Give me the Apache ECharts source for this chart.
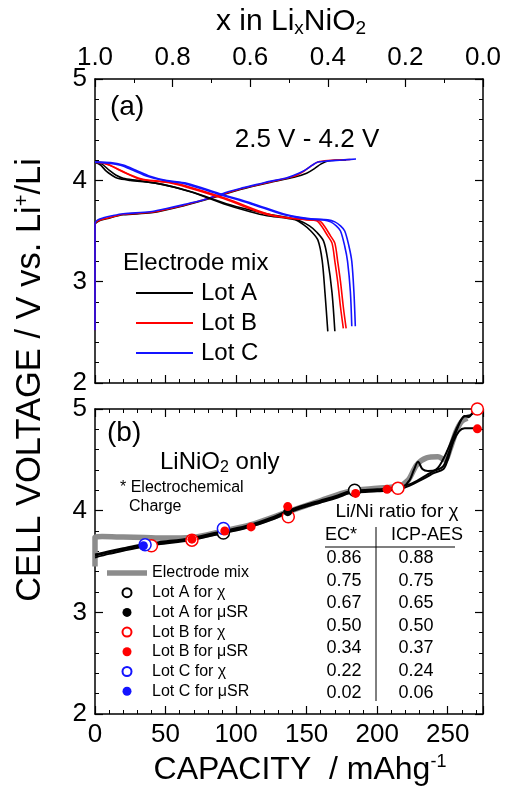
<!DOCTYPE html>
<html>
<head>
<meta charset="utf-8">
<script src="https://cdn.jsdelivr.net/npm/echarts@6/dist/echarts.min.js"></script>
<style>
  html, body { margin: 0; padding: 0; background: #fff; }
  #chart { width: 508px; height: 796px; }
</style>
</head>
<body>
<div id="chart"></div>
<script>
// ---- panel (a): 2.5 V - 4.2 V cycling, electrode mix, [capacity, voltage]
const chargeA = [[0,2.52],[0,3.56],[3,3.6],[8,3.62],[20,3.66],[40,3.68],[63,3.75],[84,3.83],[103,3.91],[124,3.98],[141,4.03],[150,4.07],[156,4.12],[160,4.16],[165,4.19],[178,4.2]];
const chargeB = [[0,2.52],[0,3.57],[4,3.61],[10,3.63],[20,3.665],[40,3.685],[63,3.755],[84,3.835],[103,3.915],[124,3.985],[141,4.04],[148,4.09],[153,4.14],[158,4.18],[165,4.195],[181,4.205]];
const chargeC = [[0,2.52],[0,3.58],[2,3.61],[6,3.63],[12,3.65],[20,3.67],[39,3.69],[50,3.72],[63,3.76],[75,3.8],[84,3.84],[95,3.89],[103,3.92],[115,3.96],[124,3.99],[135,4.02],[141,4.05],[146,4.08],[150,4.11],[154,4.15],[158,4.18],[164,4.19],[175,4.2],[185,4.21]];
const dischA1 = [[0,4.18],[4,4.15],[8,4.09],[12,4.05],[16,4.02],[25,4.0],[44,3.97],[67,3.89],[91,3.77],[110,3.69],[122,3.65],[134,3.63],[142,3.61],[148,3.56],[153,3.5],[158,3.41],[161,3.21],[163,2.89],[165,2.51]];
const dischA2 = [[0,4.18],[5,4.16],[10,4.1],[15,4.05],[20,4.02],[30,4.0],[48,3.96],[70,3.88],[93,3.77],[112,3.7],[125,3.66],[137,3.63],[145,3.6],[152,3.55],[157,3.49],[162,3.4],[165,3.21],[168,2.89],[170,2.51]];
const dischB1 = [[0,4.18],[6,4.17],[10,4.15],[16,4.11],[22,4.07],[32,4.01],[55,3.97],[91,3.82],[120,3.67],[135,3.63],[150,3.61],[157,3.6],[161,3.54],[165,3.45],[168,3.38],[170,3.2],[172,3.0],[174,2.75],[176,2.54]];
const dischB2 = [[0,4.18],[7,4.17],[12,4.14],[18,4.1],[24,4.06],[34,4.01],[57,3.97],[93,3.82],[122,3.67],[137,3.63],[152,3.61],[159,3.6],[163,3.54],[167,3.45],[170,3.38],[172,3.2],[174,3.0],[176,2.75],[178,2.54]];
const dischC1 = [[0,4.18],[10,4.17],[18,4.15],[27,4.1],[37,4.04],[48,4.0],[63,3.97],[86,3.87],[110,3.77],[134,3.66],[150,3.62],[162,3.61],[167,3.59],[171,3.55],[174,3.5],[177,3.35],[179,3.2],[181,2.9],[182,2.56]];
const dischC2 = [[0,4.18],[11,4.175],[20,4.15],[29,4.1],[39,4.04],[50,4.0],[65,3.97],[88,3.87],[112,3.77],[136,3.66],[153,3.62],[165,3.61],[170,3.59],[174,3.55],[177,3.5],[180,3.35],[182,3.2],[183.5,2.9],[184.5,2.56]];

// ---- panel (b): LiNiO2 only, first charge
const mixCharge = [[0,3.45],[0,3.74],[5,3.745],[20,3.74],[35,3.735],[50,3.73],[68,3.735],[91,3.8],[110,3.86],[137,3.99],[160,4.1],[180,4.19],[200,4.22],[215,4.24],[222,4.3],[228,4.45],[235,4.52],[243,4.53],[248,4.5],[252,4.62],[256,4.78],[260,4.88],[264,4.91]];
const onlyA = [[0,3.56],[10,3.59],[20,3.62],[32,3.655],[45,3.68],[68,3.72],[91,3.79],[110,3.85],[125,3.92],[137,3.99],[150,4.05],[160,4.09],[172,4.14],[180,4.18],[186,4.19],[200,4.2],[210,4.21],[218,4.23],[223,4.3],[226,4.4],[229,4.48],[232,4.41],[236,4.39],[242,4.4],[247,4.44],[251,4.58],[255,4.74],[259,4.88],[262,4.93],[265,4.92],[268,4.97],[271,5.0]];
const onlyB = [[0,3.54],[10,3.575],[20,3.605],[32,3.64],[45,3.67],[68,3.71],[91,3.78],[110,3.84],[125,3.91],[137,3.98],[150,4.04],[160,4.08],[172,4.13],[180,4.17],[186,4.18],[200,4.19],[210,4.2],[218,4.22],[225,4.26],[235,4.33],[240,4.37],[247,4.41],[250,4.5],[254,4.68],[258,4.78],[262,4.81],[271,4.81]];
const onlyC = [[0,3.57],[10,3.6],[20,3.63],[32,3.665],[45,3.69],[68,3.73],[91,3.8],[110,3.86],[125,3.93],[137,4.0],[150,4.06],[160,4.1],[172,4.15],[180,4.19],[186,4.2],[200,4.21],[210,4.22],[218,4.24],[225,4.27],[235,4.35],[243,4.42],[250,4.6],[256,4.8],[261,4.92],[266,4.94],[271,4.99]];

const lotAchi = [[91,3.78],[184,4.2]];
const lotAmsr = [[136.6,3.99]];
const lotBchi = [[40,3.655],[68.7,3.71],[137,3.94],[214.7,4.22],[271,5.0]];
const lotBmsr = [[68.7,3.72],[92,3.8],[110.6,3.84],[136.6,4.04],[184.7,4.17],[207,4.21],[271,4.805]];
const lotCchi = [[35.5,3.665],[91,3.825]];
const lotCmsr = [[34.3,3.655]];

// ---- Li/Ni ratio table
const ecRatio = ['0.86','0.75','0.67','0.50','0.34','0.22','0.02'];
const icpRatio = ['0.88','0.75','0.65','0.50','0.37','0.24','0.06'];

const capTicks = { min: 0, max: 275, interval: 50 };
const voltTicks = { min: 2, max: 5, interval: 1 };

const FONT = 'Liberation Sans, Arial, sans-serif';
const RED = '#ff0000', BLUE = '#1414ff', BLACK = '#000000', GRAY = '#8c8c8c';

const chart = echarts.init(document.getElementById('chart'));

function frameAxis(extra) {
  return Object.assign({
    type: 'value',
    axisLine: { show: true, onZero: false, lineStyle: { color: '#000', width: 1.5 } },
    axisTick: { show: true, inside: true, length: 8, lineStyle: { color: '#000', width: 1.2 } },
    minorTick: { show: true, splitNumber: 5, length: 4, lineStyle: { color: '#000', width: 1 } },
    splitLine: { show: false },
    axisLabel: { show: false },
  }, extra);
}
const tickLabel = { show: true, fontSize: 26, color: '#000', fontFamily: FONT, margin: 8 };

function line(name, data, color, width, xi, yi) {
  return { name: name, type: 'line', data: data, xAxisIndex: xi, yAxisIndex: yi,
    symbol: 'none', smooth: 0.3, lineStyle: { color: color, width: width }, itemStyle: { color: color },
    emphasis: { disabled: true }, silent: true };
}
function dots(name, data, color, open) {
  return { name: name, type: 'scatter', data: data, xAxisIndex: 2, yAxisIndex: 2,
    symbol: 'circle', symbolSize: open ? 12 : 9, z: open ? 4 : 5,
    itemStyle: open ? { color: '#fff', borderColor: color, borderWidth: 1.5, opacity: 1 } : { color: color, opacity: 1 },
    emphasis: { disabled: true }, silent: true };
}
const thinIcon = 'path://M0,0 L57,0 L57,1.8 L0,1.8 Z';
const thickIcon = 'path://M0,0 L38,0 L38,5 L0,5 Z';

const option = {
  animation: false,
  grid: [
    { left: 95, top: 79, width: 388, height: 304 },
    { left: 95, top: 409, width: 388, height: 305 },
  ],
  xAxis: [
    frameAxis(Object.assign({ gridIndex: 0, position: 'bottom' }, capTicks)),
    frameAxis({ gridIndex: 0, position: 'top', min: 0, max: 1, interval: 0.2, inverse: true,
      minorTick: { show: true, splitNumber: 2, length: 4, lineStyle: { color: '#000', width: 1 } },
      axisLabel: Object.assign({}, tickLabel, { formatter: v => v.toFixed(1) }) }),
    frameAxis(Object.assign({ gridIndex: 1, position: 'bottom',
      axisLabel: Object.assign({}, tickLabel, { showMaxLabel: false }) }, capTicks)),
    frameAxis(Object.assign({ gridIndex: 1, position: 'top' }, capTicks)),
  ],
  yAxis: [
    frameAxis(Object.assign({ gridIndex: 0, position: 'left', axisLabel: tickLabel }, voltTicks)),
    frameAxis(Object.assign({ gridIndex: 0, position: 'right' }, voltTicks)),
    frameAxis(Object.assign({ gridIndex: 1, position: 'left', axisLabel: tickLabel }, voltTicks)),
    frameAxis(Object.assign({ gridIndex: 1, position: 'right' }, voltTicks)),
  ],
  legend: [
    {
      data: ['Lot A', 'Lot B', 'Lot C'].map(n => ({ name: n, icon: thinIcon })),
      orient: 'vertical', left: 136, top: 281, padding: 0, symbolKeepAspect: true,
      itemWidth: 57, itemHeight: 14, itemGap: 6, selectedMode: false,
      textStyle: { fontSize: 24, lineHeight: 24, fontFamily: FONT, color: '#000', padding: [0, 0, 0, 3] },
    },
    {
      data: [{ name: 'Electrode mix', icon: thickIcon }, 'Lot A for χ', 'Lot A for μSR', 'Lot B for χ', 'Lot B for μSR', 'Lot C for χ', 'Lot C for μSR'],
      orient: 'vertical', left: 107, top: 565, padding: 0, symbolKeepAspect: true,
      itemWidth: 40, itemHeight: 9, itemGap: 3.7, selectedMode: false,
      textStyle: { fontSize: 16, lineHeight: 16, fontFamily: FONT, color: '#000' },
    },
  ],
  series: [
    line('Lot A', chargeA, BLACK, 1.6, 0, 0),
    line('Lot B', chargeB, RED, 1.6, 0, 0),
    line('Lot C', chargeC, BLUE, 1.6, 0, 0),
    line('Lot A', dischA1, BLACK, 1.6, 0, 0),
    line('Lot A', dischA2, BLACK, 1.6, 0, 0),
    line('Lot B', dischB1, RED, 1.6, 0, 0),
    line('Lot B', dischB2, RED, 1.6, 0, 0),
    line('Lot C', dischC1, BLUE, 1.6, 0, 0),
    line('Lot C', dischC2, BLUE, 1.6, 0, 0),
    line('Electrode mix', mixCharge, GRAY, 5.5, 2, 2),
    line('LiNiO2 A', onlyA, BLACK, 2, 2, 2),
    line('LiNiO2 B', onlyB, BLACK, 2, 2, 2),
    line('LiNiO2 C', onlyC, BLACK, 2, 2, 2),
    dots('Lot A for χ', lotAchi, BLACK, true),
    dots('Lot A for μSR', lotAmsr, BLACK, false),
    dots('Lot B for χ', lotBchi, RED, true),
    dots('Lot B for μSR', lotBmsr, RED, false),
    dots('Lot C for χ', lotCchi, BLUE, true),
    dots('Lot C for μSR', lotCmsr, BLUE, false),
  ],
  graphic: [],
};

const g = option.graphic;
function txt(x, y, text, size, align, extra) {
  g.push(Object.assign({ type: 'text', x: x, y: y, silent: true,
    style: { text: text, font: size + 'px ' + FONT, fill: '#000', align: align || 'left', verticalAlign: 'middle' } }, extra || {}));
}
// titles
g.push({ type: 'text', x: 291, y: 22, silent: true,
  style: { text: '{m|x in Li}{s|x}{m|NiO}{s|2}', align: 'center', verticalAlign: 'middle',
    rich: { m: { fontSize: 30, fontFamily: FONT, fill: '#000', verticalAlign: 'middle', lineHeight: 32 },
            s: { fontSize: 19, fontFamily: FONT, fill: '#000', verticalAlign: 'bottom', lineHeight: 32, padding: [16, 0, 0, 0] } } } });
g.push({ type: 'text', x: 300, y: 770, silent: true,
  style: { text: '{m|CAPACITY  / mAhg}{s|-1}', align: 'center', verticalAlign: 'middle',
    rich: { m: { fontSize: 32, fontFamily: FONT, fill: '#000', lineHeight: 34 },
            s: { fontSize: 18, fontFamily: FONT, fill: '#000', verticalAlign: 'top', lineHeight: 34, padding: [0, 0, 15, 0] } } } });
g.push({ type: 'text', x: 30, y: 380, rotation: Math.PI / 2, silent: true,
  style: { text: '{m|CELL VOLTAGE / V vs. Li}{s|+}{m|/Li}', align: 'center', verticalAlign: 'middle',
    rich: { m: { fontSize: 34.5, fontFamily: FONT, fill: '#000', lineHeight: 36 },
            s: { fontSize: 20, fontFamily: FONT, fill: '#000', verticalAlign: 'top', lineHeight: 36, padding: [0, 0, 15, 0] } } } });
// panel annotations
txt(110, 107, '(a)', 28);
txt(307, 140, '2.5 V - 4.2 V', 26, 'center');
txt(123, 263, 'Electrode mix', 24);
txt(107, 433, '(b)', 28);
g.push({ type: 'text', x: 160, y: 462, silent: true,
  style: { text: '{m|LiNiO}{s|2}{m| only}', verticalAlign: 'middle',
    rich: { m: { fontSize: 24, fontFamily: FONT, fill: '#000', lineHeight: 28 },
            s: { fontSize: 16, fontFamily: FONT, fill: '#000', verticalAlign: 'bottom', lineHeight: 28, padding: [12, 0, 0, 0] } } } });
txt(120, 488, '* Electrochemical', 16);
txt(129, 507, 'Charge', 16);
// Li/Ni table
txt(397, 512, 'Li/Ni ratio for χ', 19, 'center');
txt(325, 535, 'EC*', 18);
txt(427, 535, 'ICP-AES', 18, 'center');
g.push({ type: 'line', silent: true, shape: { x1: 325, y1: 547, x2: 455, y2: 547 }, style: { stroke: '#000', lineWidth: 1.2 } });
g.push({ type: 'line', silent: true, shape: { x1: 376, y1: 527, x2: 376, y2: 701 }, style: { stroke: '#000', lineWidth: 1 } });
ecRatio.forEach((v, i) => {
  txt(344, 558.5 + i * 22.5, v, 18, 'center');
  txt(416, 558.5 + i * 22.5, icpRatio[i], 18, 'center');
});

chart.setOption(option);
</script>
</body>
</html>
